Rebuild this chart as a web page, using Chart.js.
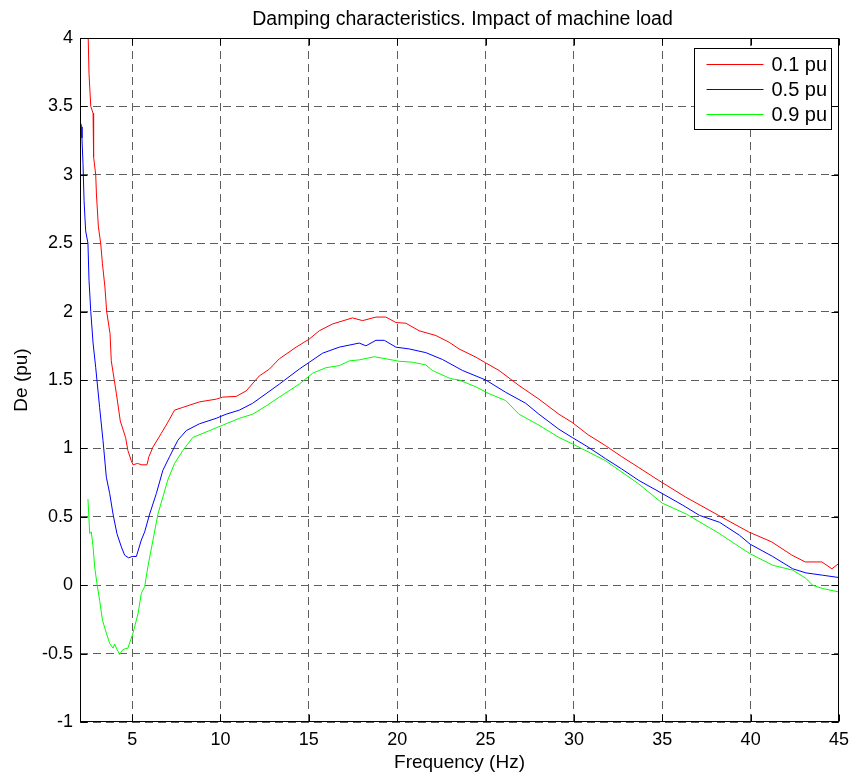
<!DOCTYPE html>
<html>
<head>
<meta charset="utf-8">
<title>Damping characteristics</title>
<script src="https://cdn.jsdelivr.net/npm/chart.js@4.4.1/dist/chart.umd.min.js"></script>
<style>
  html, body { margin: 0; padding: 0; background: #fff; }
  #wrap { width: 856px; height: 776px; }
</style>
</head>
<body>
<div id="wrap"><canvas id="deChart" width="856" height="776"></canvas></div>
<script>
const FONT = "'Liberation Sans', Arial, Helvetica, sans-serif";

const titleText = 'Damping characteristics. Impact of machine load';
const xTitle = 'Frequency (Hz)';
const yTitle = 'De (pu)';
const seriesLabels = ['0.1 pu', '0.5 pu', '0.9 pu'];
const seriesColors = ['#ff0000', '#0000ff', '#00ff00'];
const xTicks = [5, 10, 15, 20, 25, 30, 35, 40, 45];
const yTicks = [-1, -0.5, 0, 0.5, 1, 1.5, 2, 2.5, 3, 3.5, 4];

// machine load 0.1 pu
const freq01 = [2.47, 2.56, 2.66, 2.79, 2.82, 2.94, 2.98, 3.09, 3.22, 3.32, 3.46, 3.56, 3.75, 3.82,
    4.11, 4.33, 4.63, 4.76, 4.95, 5.05, 5.30, 5.55, 5.84, 5.95, 6.18, 6.65, 7.06, 7.40, 7.87, 8.81,
    9.76, 10.13, 10.89, 11.45, 12.20, 12.77, 13.33, 14.28, 15.03, 15.59, 16.35, 17.47, 18.04, 18.80,
    19.36, 19.93, 20.49, 21.24, 22.19, 22.94, 23.50, 24.45, 25.01, 25.76, 26.89, 28.02, 29.15, 29.90,
    30.80, 31.79, 32.70, 33.67, 34.80, 36.31, 38.19, 39.88, 41.20, 42.33, 43.09, 44.03, 44.60, 45.00];
const de01 = [4.25, 3.74, 3.50, 3.45, 3.13, 3.00, 2.86, 2.62, 2.50, 2.35, 2.18, 2.00, 1.84, 1.64,
    1.40, 1.20, 1.08, 0.985, 0.91, 0.88, 0.89, 0.88, 0.88, 0.94, 1.01, 1.11, 1.20, 1.28, 1.30, 1.34,
    1.36, 1.375, 1.38, 1.42, 1.53, 1.58, 1.655, 1.74, 1.80, 1.86, 1.91, 1.954, 1.934, 1.96,
    1.96, 1.92, 1.915, 1.86, 1.825, 1.776, 1.727, 1.667, 1.625, 1.57, 1.46, 1.36, 1.25, 1.19,
    1.10, 1.02, 0.94, 0.86, 0.766, 0.645, 0.51, 0.39, 0.316, 0.22, 0.17, 0.17, 0.12, 0.16];

// machine load 0.5 pu
const freq05 = [2.05, 2.15, 2.16, 2.22, 2.28, 2.37, 2.50, 2.56, 2.66, 2.79, 2.94, 3.16, 3.35, 3.54,
    3.73, 3.92, 4.14, 4.39, 4.58, 4.80, 5.00, 5.24, 5.52, 5.71, 5.99, 6.37, 6.74, 7.12, 7.59, 8.06,
    8.81, 9.76, 10.32, 11.07, 11.82, 12.58, 13.33, 14.46, 15.03, 15.78, 16.72, 17.85, 18.23, 18.80,
    19.27, 19.93, 20.68, 21.62, 22.56, 23.69, 25.01, 26.14, 27.27, 28.02, 29.15, 29.90, 30.80, 31.79,
    32.70, 33.67, 35.00, 36.17, 37.11, 38.24, 39.37, 39.97, 41.25, 42.38, 43.13, 44.07, 45.00];
const de05 = [3.39, 3.35, 3.27, 3.08, 2.81, 2.59, 2.50, 2.23, 2.00, 1.77, 1.59, 1.30, 1.06, 0.79,
    0.67, 0.52, 0.377, 0.28, 0.219, 0.20, 0.21, 0.21, 0.33, 0.39, 0.52, 0.67, 0.84, 0.94, 1.06, 1.13,
    1.18, 1.22, 1.25, 1.28, 1.33, 1.40, 1.47, 1.58, 1.63, 1.696, 1.74, 1.77, 1.75, 1.79,
    1.79, 1.74, 1.727, 1.70, 1.65, 1.57, 1.50, 1.41, 1.33, 1.25, 1.14, 1.08, 1.01, 0.925,
    0.85, 0.766, 0.67, 0.584, 0.51, 0.46, 0.365, 0.30, 0.21, 0.12, 0.09, 0.073, 0.056];

// machine load 0.9 pu
const freq09 = [2.50, 2.60, 2.69, 2.79, 2.88, 3.01, 3.16, 3.32, 3.54, 3.73, 3.92, 4.01, 4.11, 4.29,
    4.48, 4.76, 5.05, 5.33, 5.52, 5.71, 5.89, 6.18, 6.46, 6.74, 7.02, 7.40, 7.87, 8.43, 9.38, 10.13,
    11.07, 11.82, 12.58, 13.33, 14.46, 15.22, 15.97, 16.72, 17.29, 17.85, 18.70, 19.36, 20.11, 20.86,
    21.62, 21.99, 22.75, 23.03, 23.50, 24.45, 25.20, 26.14, 26.89, 28.02, 29.15, 29.90, 31.79, 33.67,
    35.00, 36.36, 38.24, 39.37, 39.97, 41.25, 42.38, 43.13, 43.50, 44.07, 45.00];
const de09 = [0.63, 0.377, 0.39, 0.28, 0.134, 0.012, -0.11, -0.255, -0.35, -0.426, -0.46, -0.43, -0.46, -0.506,
    -0.47, -0.46, -0.35, -0.21, -0.06, -0.01, 0.134, 0.33, 0.52, 0.645, 0.77, 0.89, 0.985, 1.08, 1.13, 1.17,
    1.22, 1.25, 1.31, 1.375, 1.47, 1.55, 1.59, 1.605, 1.64, 1.647, 1.67, 1.655, 1.637, 1.63,
    1.61, 1.57, 1.525, 1.51, 1.50, 1.45, 1.40, 1.35, 1.25, 1.17, 1.08, 1.034, 0.91, 0.74,
    0.60, 0.52, 0.377, 0.28, 0.23, 0.146, 0.11, 0.05, 0.0, -0.024, -0.05];

function toPoints(xs, ys) {
    return xs.map((x, i) => ({ x: x, y: ys[i] }));
}

const seriesData = [toPoints(freq01, de01), toPoints(freq05, de05), toPoints(freq09, de09)];

// box around the axes, inward tick marks, title and legend (drawn matlab style)
const frameDecor = {
    id: 'frameDecor',
    afterDatasetsDraw(chart) {
        const ctx = chart.ctx;
        const area = chart.chartArea;
        const xs = chart.scales.x;
        const ys = chart.scales.y;
        const tick = 7;

        ctx.save();
        ctx.strokeStyle = '#000';
        ctx.lineWidth = 1;
        ctx.setLineDash([]);

        const L = Math.round(area.left) + 0.5;
        const R = Math.round(area.right) - 0.5;
        const T = Math.round(area.top) + 0.5;
        const B = Math.round(area.bottom) - 0.5;

        ctx.beginPath();
        xTicks.forEach(v => {
            const px = Math.round(xs.getPixelForValue(v)) + 0.5;
            ctx.moveTo(px, B); ctx.lineTo(px, B - tick);
            ctx.moveTo(px, T); ctx.lineTo(px, T + tick);
        });
        yTicks.forEach(v => {
            const py = Math.round(ys.getPixelForValue(v)) + 0.5;
            ctx.moveTo(L, py); ctx.lineTo(L + tick, py);
            ctx.moveTo(R, py); ctx.lineTo(R - tick, py);
        });
        ctx.stroke();
        ctx.strokeRect(L, T, R - L, B - T);

        // legend, top right inside the axes
        const boxW = 137, boxH = 81;
        const bx = Math.round(area.right - 145) + 0.5;
        const by = Math.round(area.top + 10) + 0.5;
        ctx.fillStyle = '#fff';
        ctx.fillRect(bx, by, boxW, boxH);
        ctx.strokeRect(bx, by, boxW, boxH);

        ctx.font = '20px ' + FONT;
        ctx.textBaseline = 'middle';
        ctx.textAlign = 'left';
        chart.data.datasets.forEach((ds, i) => {
            const rowY = Math.round(by + 15 + i * 25) + 0.5;
            ctx.strokeStyle = ds.borderColor;
            ctx.beginPath();
            ctx.moveTo(bx + 12, rowY);
            ctx.lineTo(bx + 69, rowY);
            ctx.stroke();
            ctx.fillStyle = '#000';
            ctx.fillText(ds.label, bx + 77, rowY + 1);
        });

        ctx.font = '19.5px ' + FONT;
        ctx.textAlign = 'center';
        ctx.textBaseline = 'alphabetic';
        ctx.fillText(titleText, (area.left + area.right) / 2 + 3, 25);
        ctx.restore();
    }
};

const deChart = new Chart(document.getElementById('deChart').getContext('2d'), {
    type: 'line',
    data: {
        datasets: seriesData.map((pts, i) => ({
            label: seriesLabels[i],
            data: pts,
            borderColor: seriesColors[i],
            borderWidth: 1,
            pointRadius: 0,
            tension: 0,
            fill: false
        }))
    },
    options: {
        responsive: false,
        animation: false,
        devicePixelRatio: 1,
        layout: { padding: { top: 38, right: 16, left: 0, bottom: 0 } },
        plugins: {
            legend: { display: false },
            title: { display: false },
            tooltip: { enabled: false }
        },
        scales: {
            x: {
                type: 'linear',
                min: 2.05,
                max: 45,
                afterBuildTicks: scale => { scale.ticks = xTicks.map(v => ({ value: v })); },
                afterFit: scale => { scale.height = 54; },
                grid: { color: '#5f5f5f', lineWidth: 1, drawTicks: false },
                border: { display: false, dash: [8, 5] },
                ticks: {
                    autoSkip: false,
                    maxRotation: 0,
                    padding: 7,
                    color: '#000',
                    font: { family: FONT, size: 18 },
                    callback: v => String(v)
                },
                title: {
                    display: true,
                    text: xTitle,
                    color: '#000',
                    font: { family: FONT, size: 19 },
                    padding: { top: 0, bottom: 2 }
                }
            },
            y: {
                min: -1,
                max: 4,
                afterBuildTicks: scale => { scale.ticks = yTicks.map(v => ({ value: v })); },
                afterFit: scale => { scale.width = 80; },
                grid: { color: '#5f5f5f', lineWidth: 1, drawTicks: false },
                border: { display: false, dash: [8, 5] },
                ticks: {
                    padding: 7,
                    color: '#000',
                    font: { family: FONT, size: 18 },
                    callback: v => String(Math.round(v * 10) / 10)
                },
                title: {
                    display: true,
                    text: yTitle,
                    color: '#000',
                    font: { family: FONT, size: 19 },
                    padding: { top: 10, bottom: 0 }
                }
            }
        }
    },
    plugins: [frameDecor]
});
</script>
</body>
</html>
